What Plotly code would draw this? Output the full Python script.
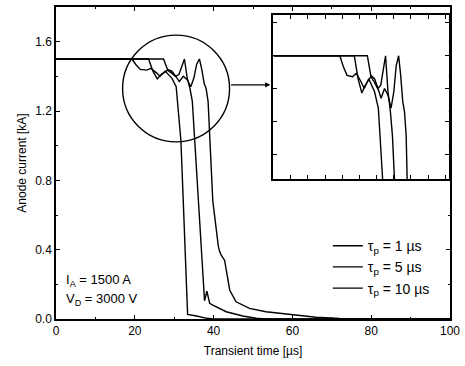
import plotly.graph_objects as go

# tau_p = 1 us
t1 = [0, 19.3, 20.3, 21.4, 23.0, 24.1, 25.5, 26.4, 27.7, 28.6, 29.4, 30.5, 31.0, 31.7, 32.3, 33.4, 35.7, 38.2, 40, 100]
i1 = [1.5, 1.5, 1.467, 1.44, 1.436, 1.446, 1.42, 1.40, 1.43, 1.41, 1.39, 1.34, 1.22, 1.03, 0.68, 0.027, 0.017, 0.004, 0, 0]

# tau_p = 5 us
t2 = [0, 23.5, 24.6, 25.7, 26.7, 28.3, 29.3, 30.3, 31.2, 31.9, 32.6, 33.3, 34.0, 34.6, 37.6, 37.7, 38.3, 39.0, 39.8, 43.2, 47.4, 50.8, 53, 100]
i2 = [1.5, 1.5, 1.43, 1.386, 1.41, 1.436, 1.42, 1.40, 1.41, 1.46, 1.5, 1.39, 1.33, 1.256, 0.128, 0.105, 0.16, 0.09, 0.08, 0.042, 0.017, 0.004, 0, 0]

# tau_p = 10 us
t3 = [0, 27.3, 28.3, 29.4, 30.4, 31.3, 32.3, 33.3, 34.2, 35.0, 35.7, 36.4, 37.0, 37.6, 38.1, 38.6, 39.8, 40.7, 41.2, 41.5, 41.9, 42.8, 43.5, 44.1, 45.7, 49.1, 53.3, 60.1, 66, 72, 78, 100]
i3 = [1.5, 1.5, 1.44, 1.43, 1.40, 1.37, 1.40, 1.38, 1.34, 1.39, 1.47, 1.5, 1.44, 1.36, 1.33, 1.256, 0.68, 0.49, 0.42, 0.39, 0.37, 0.338, 0.25, 0.166, 0.099, 0.061, 0.042, 0.023, 0.01, 0.003, 0, 0]

names = ["τ<sub>p</sub> = 1 µs", "τ<sub>p</sub> = 5 µs", "τ<sub>p</sub> = 10 µs"]
series = [(t1, i1), (t2, i2), (t3, i3)]

FONT = "Liberation Sans, Arial, sans-serif"
fig = go.Figure()
for (t, i), n in zip(series, names):
    fig.add_trace(go.Scatter(x=t, y=i, mode="lines", name=n,
                             line=dict(color="black", width=1.4), xaxis="x", yaxis="y"))
for (t, i), n in zip(series, names):
    fig.add_trace(go.Scatter(x=t, y=i, mode="lines", name=n, showlegend=False,
                             line=dict(color="black", width=1.4), xaxis="x2", yaxis="y2"))

axis_common = dict(showline=True, linecolor="black", linewidth=1.5, mirror="ticks",
                   ticks="inside", ticklen=4, tickcolor="black", showgrid=False, zeroline=False)

fig.update_layout(
    width=465, height=366,
    margin=dict(l=56, r=14, t=5, b=47),
    paper_bgcolor="white", plot_bgcolor="white",
    font=dict(family=FONT, size=12, color="black"),
    xaxis=dict(range=[0, 100], dtick=20, domain=[0, 1],
               minor=dict(dtick=10, ticks="inside", ticklen=2, tickcolor="black"),
               title=dict(text="Transient time [µs]", font=dict(size=12), standoff=9),
               **axis_common),
    yaxis=dict(range=[0, 1.8], dtick=0.4, tickformat=".1f", domain=[0, 1],
               minor=dict(dtick=0.2, ticks="inside", ticklen=2, tickcolor="black"),
               title=dict(text="Anode current [kA]", font=dict(size=12), standoff=6),
               **axis_common),
    xaxis2=dict(range=[0, 51], domain=[0.552, 0.997], anchor="y2", dtick=5,
                showticklabels=False, **axis_common),
    yaxis2=dict(range=[1.123, 1.625], domain=[0.448, 0.975], anchor="x2", dtick=0.1,
                showticklabels=False, **axis_common),
    legend=dict(x=0.69, y=0.285, xanchor="left", yanchor="top",
                bgcolor="rgba(0,0,0,0)", font=dict(size=14), tracegroupgap=0),
    shapes=[dict(type="circle", xref="x", yref="y", x0=16.9, x1=44.05, y0=1.022, y1=1.638,
                 line=dict(color="black", width=1.4))],
    annotations=[
        dict(x=54.4, y=1.351, ax=44.05, ay=1.351, xref="x", yref="y", axref="x", ayref="y",
             showarrow=True, arrowhead=2, arrowsize=0.8, arrowwidth=1.3, arrowcolor="black", text=""),
        dict(x=2.0, y=0.22, xref="x", yref="y", xanchor="left", showarrow=False,
             text="I<sub>A</sub> = 1500 A", font=dict(size=13)),
        dict(x=2.0, y=0.115, xref="x", yref="y", xanchor="left", showarrow=False,
             text="V<sub>D</sub> = 3000 V", font=dict(size=13)),
    ],
)

fig.write_html("out.html")
